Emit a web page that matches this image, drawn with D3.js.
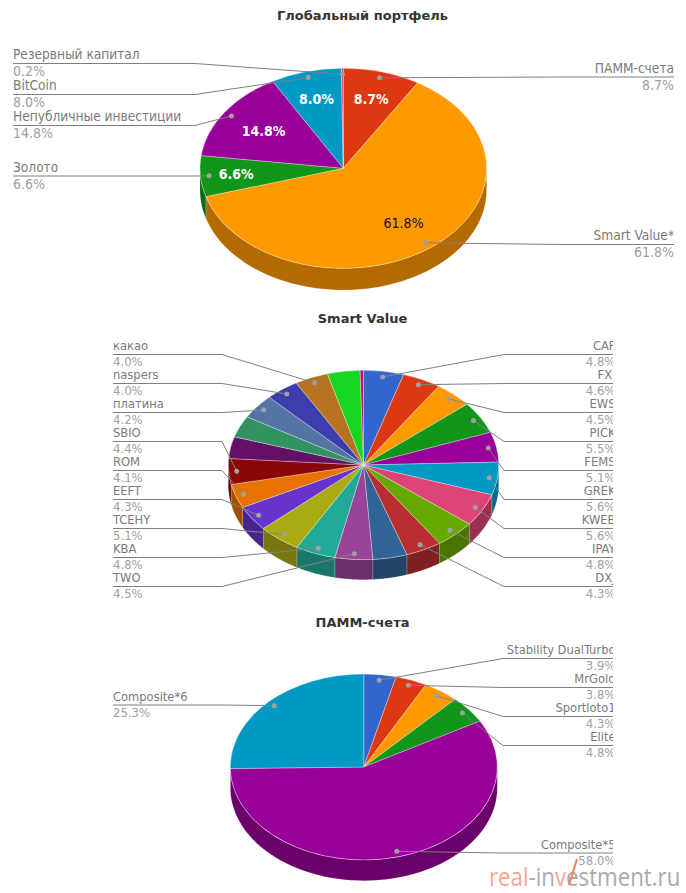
<!DOCTYPE html>
<html><head><meta charset="utf-8">
<style>html,body{margin:0;padding:0;background:#fff}svg{display:block}</style>
<script src="https://cdn.jsdelivr.net/npm/d3@7/dist/d3.min.js"></script>
</head><body><svg id="c" width="686" height="893"></svg>
<script>
const palette = ["#3366cc","#dc3912","#ff9900","#109618","#990099","#0099c6","#dd4477","#66aa00","#b82e2e","#316395","#994499","#22aa99","#aaaa11","#6633cc","#e67300","#8b0707","#651067","#329262","#5574a6","#3b3eac","#b77322","#16d620","#b91383"];

const globalNames = ["ПАММ-счета","Smart Value*","Золото","Непубличные инвестиции","BitCoin","Резервный капитал"];
const globalValues = [8.7,61.8,6.6,14.8,8.0,0.2];
const globalColors = ["#dc3912","#ff9900","#109618","#990099","#0099c6","#dd4477"];

const smartNames = ["CAF","FXI","EWS","PICK","FEMS","GREK","KWEB","IPAY","DXJ","","TWO","KBA","TCEHY","EEFT","ROM","SBIO","","","платина","naspers","какао","",""];
const smartValues = [4.8,4.6,4.5,5.5,5.1,5.6,5.6,4.8,4.3,4.1,4.5,4.8,5.1,4.3,4.1,4.4,3.7,3.7,4.2,4.0,4.0,3.9,0.4];

const pammNames = ["Stability DualTurbo","MrGold","Sportloto1","Elite","Composite*5","Composite*6"];
const pammValues = [3.9,3.8,4.3,4.8,58.0,25.3];

const charts = [
 {title:"Глобальный портфель", titleY:20, names:globalNames, values:globalValues, colors:globalColors,
  cx:343.3, cy:168.3, rx:143.3, ry:100, depth:21.7, left:13, right:674, kneeL:195, kneeR:560, fsName:13.6, fsPct:14, textDx:0, pctDy:13,
  lineY:{"ПАММ-счета":77,"Smart Value*":244.5,"Золото":176,"Непубличные инвестиции":125.5,"BitCoin":94.5,"Резервный капитал":63.5},
  insideR:[.72,.69,.75,.67,.72,0]},
 {title:"Smart Value", titleY:323, names:smartNames, values:smartValues, colors:palette,
  cx:363.5, cy:465, rx:135.2, ry:94.7, depth:20, left:113, right:613, kneeL:222, kneeR:504, fsName:12.8, fsPct:13, textDx:2.5, pctDy:12,
  lineY:{CAF:354.5,FXI:383.5,EWS:412.5,PICK:441.5,FEMS:470.5,GREK:499.5,KWEB:528.5,IPAY:557.5,DXJ:586.5,
         "какао":354.5,naspers:383.5,"платина":412.5,SBIO:441.5,ROM:470.5,EEFT:499.5,TCEHY:528.5,KBA:557.5,TWO:586.5}},
 {title:"ПАММ-счета", titleY:627, names:pammNames, values:pammValues, colors:palette,
  cx:363.8, cy:767, rx:133.5, ry:93, depth:20.7, left:113, right:613, kneeL:225, kneeR:503, fsName:12.8, fsPct:13, textDx:2.5, pctDy:12,
  lineY:{"Stability DualTurbo":658.5,MrGold:687.5,Sportloto1:716.5,Elite:745.5,"Composite*5":853,"Composite*6":705}}
];

const svg = d3.select("#c");
const font = "'DejaVu Sans Condensed','DejaVu Sans',sans-serif";
const pie = d3.pie().sort(null).value(d=>d);
const arc = d3.arc().innerRadius(0).outerRadius(1);

charts.forEach((c,ci)=>{
  svg.append("clipPath").attr("id","clip"+ci).append("rect").attr("x",0).attr("y",0).attr("width",c.right).attr("height",893);
  const root = svg.append("g").attr("clip-path",`url(#clip${ci})`);
  svg.append("text").attr("x",362.5).attr("y",c.titleY).attr("text-anchor","middle")
    .attr("font-family","'DejaVu Sans',sans-serif").attr("font-weight","bold").attr("font-size",13).attr("fill","#333").text(c.title);

  const arcs = pie(c.values);
  const area = d3.area().x(a=>c.rx*Math.sin(a)).y0(a=>-c.ry*Math.cos(a)).y1(a=>-c.ry*Math.cos(a)+c.depth);
  const g = root.append("g").attr("transform",`translate(${c.cx},${c.cy})`);
  arcs.forEach((d,i)=>{
    const a0=Math.max(d.startAngle,Math.PI/2), a1=Math.min(d.endAngle,Math.PI*1.5);
    if(a1<=a0) return;
    const base=d3.rgb(c.colors[i]);
    g.append("path").attr("d",area(d3.range(0,61).map(k=>a0+(a1-a0)*k/60)))
      .attr("fill",d3.rgb(base.r*.7,base.g*.7,base.b*.7).formatHex()).attr("stroke","#fff").attr("stroke-opacity",.25).attr("stroke-width",.6);
  });
  g.selectAll("path.top").data(arcs).join("path").attr("class","top")
    .attr("d",arc).attr("transform",`scale(${c.rx},${c.ry})`)
    .attr("fill",(d,i)=>c.colors[i]).attr("stroke","#fff").attr("stroke-opacity",.45).attr("stroke-width",.7)
    .attr("vector-effect","non-scaling-stroke");

  if(c.insideR){
    arcs.forEach((d,i)=>{
      if(!c.insideR[i]) return;
      const m=(d.startAngle+d.endAngle)/2, big=c.values[i]>50, f=c.insideR[i];
      g.append("text").attr("x",c.rx*f*Math.sin(m)).attr("y",-c.ry*f*Math.cos(m)+5)
        .attr("text-anchor","middle").attr("font-family",font).attr("font-size",14)
        .attr("font-weight",big?"normal":"bold").attr("fill",big?"#111":"#fff")
        .text(c.values[i].toFixed(1)+"%");
    });
  }
  arcs.forEach((d,i)=>{
    const name=c.names[i]; if(!name) return;
    const m=(d.startAngle+d.endAngle)/2;
    const px=c.cx+c.rx*.94*Math.sin(m), py=c.cy-c.ry*.94*Math.cos(m);
    const isRight=Math.sin(m)>0, ly=c.lineY[name];
    const ex=isRight?c.right:c.left, kx=isRight?c.kneeR:c.kneeL;
    root.append("path").attr("d",d3.line()([[px,py],[kx,ly],[ex,ly]])).attr("fill","none").attr("stroke","#808080").attr("stroke-width",1);
    root.append("circle").attr("cx",px).attr("cy",py).attr("r",2.5).attr("fill","#a0a0a0");
    const anchor=isRight?"end":"start", tx=ex+(isRight?c.textDx:0), by=Math.floor(ly);
    root.append("text").attr("x",tx).attr("y",by-4).attr("text-anchor",anchor)
      .attr("font-family",font).attr("font-size",c.fsName).attr("fill","#7a7a7a").text(name);
    root.append("text").attr("x",tx).attr("y",by+c.pctDy).attr("text-anchor",anchor)
      .attr("font-family",font).attr("font-size",c.fsPct).attr("fill","#a0a0a0").text(c.values[i].toFixed(1)+"%");
  });
});

// watermark
const wmParts = [["real","#f7a68f"],["-in","#aaaaaa"],["v","#f7a68f"],["estment.ru","#aaaaaa"]];
svg.append("text").attr("transform","translate(489,886) scale(.89,1)").attr("font-family","'Open Sans',sans-serif").attr("font-size",25)
  .selectAll("tspan").data(wmParts).join("tspan").attr("fill",d=>d[1]).text(d=>d[0]);
const wmTick = [[569,885],[577,859]];
svg.append("path").attr("d",d3.line()(wmTick)).attr("stroke","#f08a60").attr("stroke-width",2.2).attr("fill","none");
</script></body></html>
